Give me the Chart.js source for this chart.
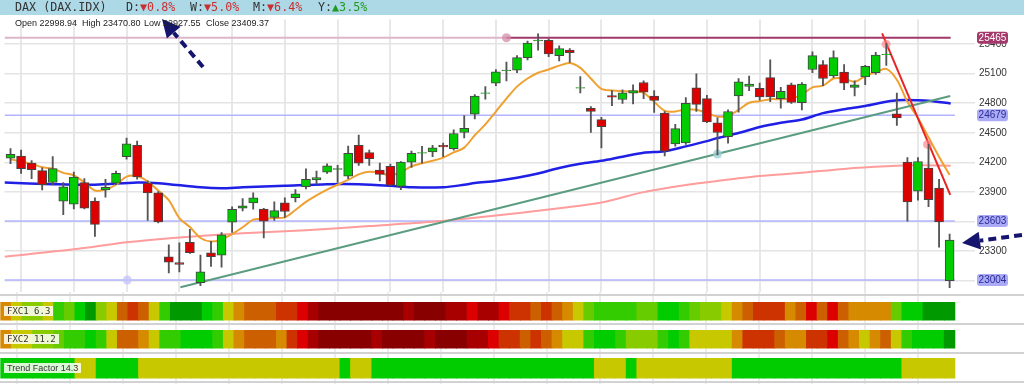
<!DOCTYPE html>
<html>
<head>
<meta charset="utf-8">
<script src="https://cdn.jsdelivr.net/npm/chart.js@4.4.1/dist/chart.umd.min.js"></script>
<style>
  body { margin: 0; width: 1024px; height: 384px; overflow: hidden; position: relative; background: #fff; font-family: "Liberation Sans", Arial, sans-serif; }
  #strips { position: absolute; left: 0; top: 292px; }
  #price { position: absolute; left: 0; top: 15px; }
  #hdr { position: absolute; left: 0; top: 0; width: 1024px; height: 15px; background: #add8e6; font: 11.7px "DejaVu Sans Mono", monospace; color: #333; }
  #hdr span { position: absolute; top: 0; line-height: 15px; white-space: pre; }
  .dn { color: #c83030; }
  .up { color: #209a20; }
  .ohlc { position: absolute; top: 18px; font-size: 9px; line-height: 11px; color: #222; white-space: pre; }
  .lbl { position: absolute; left: 4px; height: 10px; line-height: 10px; padding: 0 3px; background: rgba(255, 255, 248, 0.85); color: #333; font: 9px "DejaVu Sans Mono", monospace; white-space: pre; }
</style>
</head>
<body>
<canvas id="strips" width="1024" height="92"></canvas>
<canvas id="price" width="1024" height="281"></canvas>
<div id="hdr">
  <span style="left:15px">DAX (DAX.IDX)</span>
  <span style="left:126px">D:<b class="dn" style="font-weight:normal">▼0.8%</b></span>
  <span style="left:190px">W:<b class="dn" style="font-weight:normal">▼5.0%</b></span>
  <span style="left:253px">M:<b class="dn" style="font-weight:normal">▼6.4%</b></span>
  <span style="left:318px">Y:<b class="up" style="font-weight:normal">▲3.5%</b></span>
</div>
<div class="ohlc" style="left:15px">Open 22998.94</div>
<div class="ohlc" style="left:82px">High 23470.80</div>
<div class="ohlc" style="left:144px">Low 22927.55</div>
<div class="ohlc" style="left:206px">Close 23409.37</div>
<div class="lbl" style="top:306px">FXC1 6.3</div>
<div class="lbl" style="top:334px">FXC2 11.2</div>
<div class="lbl" style="top:363px;font-family:'Liberation Sans',Arial,sans-serif">Trend Factor 14.3</div>

<script>
// daily candles, oldest first
var opens = [24241, 24264, 24192, 24116, 23995, 23805, 23775, 23995, 23805, 23920,
  23988, 24257, 24372, 23988, 23890, 23241, 23182, 23388, 22978, 23280,
  23257, 23592, 23733, 23788, 23726, 23641, 23788, 23841, 23952, 24021,
  24100, 24129, 24060, 24372, 24300, 24120, 24159, 23956, 24202, 24293,
  24306, 24372, 24339, 24503, 24690, 24900, 25005, 25130, 25136, 25264,
  25434, 25438, 25284, 25339, 24952, 24749, 24634, 24877, 24838, 24903,
  25011, 24874, 24700, 24388, 24398, 24956, 24847, 24602, 24461, 24874,
  24972, 24952, 25061, 24847, 24988, 24805, 25143, 25192, 25077, 25116,
  24962, 25067, 25110, 25293, 24693, 24202, 23906, 24142, 23939, 22998.94];
var highs = [24339, 24323, 24218, 24143, 24257, 23995, 24100, 24034, 23838, 24028,
  24110, 24447, 24415, 24011, 23903, 23362, 23382, 23519, 23257, 23398,
  23487, 23749, 23831, 23890, 23733, 23798, 23838, 23923, 24133, 24110,
  24185, 24169, 24365, 24477, 24323, 24192, 24182, 24208, 24313, 24362,
  24372, 24395, 24529, 24674, 24887, 24969, 25143, 25218, 25284, 25431,
  25505, 25454, 25382, 25356, 25070, 24765, 24657, 24929, 24936, 24988,
  25028, 24929, 24716, 24585, 24857, 25100, 24880, 24651, 24733, 25051,
  25077, 25005, 25241, 24962, 25005, 25011, 25323, 25234, 25333, 25192,
  25028, 25185, 25316, 25405, 24903, 24247, 24247, 24382, 24028, 23470.80];
var lows = [24185, 24087, 24034, 23920, 23972, 23667, 23726, 23726, 23447, 23847,
  23972, 24231, 24028, 23611, 23585, 23077, 23087, 23274, 22946, 23142,
  23136, 23487, 23706, 23723, 23431, 23611, 23641, 23798, 23929, 23978,
  24087, 23995, 24034, 24169, 24169, 24011, 23962, 23923, 24149, 24192,
  24257, 24257, 24323, 24447, 24641, 24841, 24979, 25028, 25110, 25241,
  25339, 25274, 25231, 25215, 24906, 24503, 24346, 24775, 24798, 24792,
  24847, 24706, 24264, 24365, 24382, 24716, 24602, 24274, 24395, 24710,
  24929, 24831, 24815, 24749, 24798, 24733, 25110, 24979, 25061, 24939,
  24874, 24988, 25093, 25185, 24575, 23601, 23815, 23749, 23339, 22927.55];
var closes = [24280, 24136, 24126, 23972, 24136, 23952, 24051, 23733, 23569, 23946,
  24087, 24388, 24051, 23890, 23595, 23185, 23162, 23283, 23087, 23241,
  23464, 23723, 23759, 23838, 23601, 23710, 23700, 23880, 24028, 24044,
  24165, 24136, 24290, 24192, 24238, 24077, 23969, 24202, 24290, 24300,
  24346, 24356, 24493, 24546, 24874, 24906, 25120, 25136, 25264, 25411,
  25441, 25300, 25356, 25313, 24959, 24716, 24562, 24861, 24906, 24929,
  24913, 24828, 24313, 24543, 24798, 24788, 24611, 24503, 24716, 25018,
  24995, 24864, 24864, 24920, 24808, 24995, 25284, 25051, 25264, 25005,
  24988, 25175, 25290, 25300, 24651, 23798, 24208, 23821, 23595, 23409.37];

// short moving average (orange), one value per candle
var fastMa = [24231, 24208, 24185, 24149, 24136, 24093, 24067, 23995, 23913, 23923,
  23972, 24054, 24060, 24005, 23913, 23815, 23634, 23542, 23431, 23395,
  23415, 23470, 23540, 23618, 23624, 23634, 23641, 23716, 23798, 23864,
  23923, 23972, 24021, 24077, 24103, 24093, 24067, 24100, 24159, 24192,
  24215, 24247, 24300, 24349, 24475, 24585, 24716, 24847, 24969, 25051,
  25110, 25143, 25182, 25208, 25159, 25051, 24946, 24929, 24923, 24920,
  24906, 24815, 24723, 24716, 24739, 24733, 24700, 24664, 24674, 24733,
  24805, 24821, 24841, 24841, 24847, 24887, 24962, 24979, 25051, 25051,
  25018, 25077, 25116, 25149, 25038, 24815, 24651, 24454, 24257, 24070];

// blue and pink averages, read at sample points
var midMaAt = [-0.57, 4, 8, 12, 14, 18, 20, 22, 26, 30, 33, 36, 38, 41, 43, 44, 46, 48, 50, 52,
  54, 56, 58, 60, 62, 64, 66, 67, 69, 71, 73, 75, 77, 79, 81, 83, 84, 86, 87, 89.1];
var midMa = [23995, 23978, 23972, 23995, 23988, 23946, 23936, 23946, 23962, 23978, 23978, 23962,
  23946, 23946, 23972, 23990, 24011, 24044, 24087, 24143, 24185, 24215, 24257, 24297, 24313,
  24362, 24415, 24447, 24497, 24559, 24602, 24634, 24700, 24739, 24772, 24815, 24831, 24831,
  24825, 24798];
var slowMaAt = [-0.57, 6, 11, 16, 22, 28, 34, 40, 44, 48, 52, 56, 60, 64, 67, 71, 75, 79, 83, 86, 89.1];
var slowMa = [23241, 23316, 23388, 23437, 23480, 23510, 23552, 23595, 23638, 23683, 23733, 23791,
  23897, 23969, 24011, 24060, 24093, 24133, 24159, 24169, 24166];

// drawn levels and trend lines
var tagLevels = [25465, 24679, 23603, 23004];
var upTrendAt = [16.1, 89.06];
var upTrend = [22931, 24874];
var downTrendAt = [82.6, 89.06];
var downTrend = [25510, 23870];
var highLevelFrom = 47;

// y axis tick labels
var yTicks = [23000, 23300, 23600, 23900, 24200, 24500, 24800, 25100, 25400];

// heat strip levels, 0 = strong green ... 11 = dark red
var fxc1 = [6, 5, 4, 4, 5, 2, 3, 1, 0, 4, 5, 7, 8, 7, 5, 2, 0, 0, 0, 1,
  2, 5, 6, 7, 7, 7, 8, 8, 9, 10, 11, 11, 11, 11, 11, 11, 11, 11, 10, 11,
  11, 11, 10, 10, 9, 10, 10, 9, 8, 8, 7, 8, 7, 6, 5, 3, 2, 2, 2, 2,
  3, 3, 1, 1, 2, 3, 4, 4, 5, 6, 7, 8, 8, 8, 6, 7, 9, 7, 9, 7,
  6, 6, 6, 6, 3, 1, 1, 0, 0, 0];
var fxc2 = [6, 5, 5, 4, 4, 3, 2, 2, 1, 2, 5, 7, 7, 6, 5, 2, 2, 1, 1, 1,
  2, 5, 6, 7, 7, 7, 6, 8, 9, 10, 11, 11, 11, 11, 11, 10, 11, 11, 11, 11,
  10, 11, 11, 11, 10, 10, 9, 8, 8, 7, 8, 7, 6, 5, 5, 2, 1, 1, 2, 4,
  4, 4, 2, 1, 2, 5, 5, 5, 5, 6, 8, 8, 8, 7, 6, 6, 8, 8, 9, 7,
  6, 5, 6, 7, 5, 2, 1, 1, 1, 0];
var trendFactor = [1, 1, 1, 1, 1, 1, 1, 5, 5, 1, 1, 1, 1, 5, 5, 5, 5, 5, 5, 5,
  5, 5, 5, 5, 5, 5, 5, 5, 5, 5, 5, 5, 1, 5, 5, 1, 1, 1, 1, 1,
  1, 1, 1, 1, 1, 1, 1, 1, 1, 1, 1, 1, 1, 1, 1, 1, 5, 5, 5, 1,
  5, 5, 5, 5, 5, 5, 5, 5, 5, 1, 1, 1, 1, 1, 1, 1, 1, 1, 1, 1,
  1, 1, 1, 1, 1, 5, 5, 5, 5, 5];

var heatColors = ['#009900', '#00cc00', '#33cc00', '#66cc00', '#88cc00', '#c8c800',
  '#d68a00', '#cc6000', '#cc3300', '#dd0000', '#a80000', '#880000'];

Chart.defaults.font.family = '"Liberation Sans", Arial, sans-serif';

var xMin = -0.57, xMax = 89.7;
var gridCols = [];
for (var c = 1; c < 90; c += 5) gridCols.push(c);

function pts(xs, ys) {
  return ys.map(function (v, k) { return { x: xs[k], y: v }; });
}
var idx = opens.map(function (_, i) { return i; });

function lineSet(data, color, width, order, tension) {
  return { type: 'line', data: data, borderColor: color, borderWidth: width, pointRadius: 0,
    tension: tension || 0, order: order };
}
function dotSet(data, color) {
  return { type: 'line', data: data, showLine: false, pointRadius: 4.5, pointBorderWidth: 0,
    pointBackgroundColor: color, order: 3 };
}

function drawArrow(ctx, x1, y1, x2, y2) {
  var a = Math.atan2(y2 - y1, x2 - x1), head = 18, hw = 9;
  var bx = x2 - head * Math.cos(a), by = y2 - head * Math.sin(a);
  ctx.save();
  ctx.strokeStyle = '#15156e';
  ctx.fillStyle = '#15156e';
  ctx.lineWidth = 4;
  ctx.setLineDash([8, 5]);
  ctx.beginPath(); ctx.moveTo(x1, y1); ctx.lineTo(bx, by); ctx.stroke();
  ctx.setLineDash([]);
  ctx.beginPath();
  ctx.moveTo(x2, y2);
  ctx.lineTo(bx + hw * Math.sin(a), by - hw * Math.cos(a));
  ctx.lineTo(bx - hw * Math.sin(a), by + hw * Math.cos(a));
  ctx.closePath(); ctx.fill();
  ctx.restore();
}

var tagsPlugin = {
  id: 'tags',
  afterDraw: function (chart) {
    var ctx = chart.ctx, y = chart.scales.y;
    ctx.save();
    ctx.font = '10px "Liberation Sans", Arial, sans-serif';
    ctx.textAlign = 'center';
    ctx.textBaseline = 'middle';
    tagLevels.forEach(function (v, k) {
      var py = y.getPixelForValue(v);
      ctx.fillStyle = k === 0 ? '#a3386a' : '#aaaaf6';
      ctx.beginPath();
      ctx.roundRect(977, py - 6, 31, 12, 3);
      ctx.fill();
      ctx.fillStyle = k === 0 ? '#ffffff' : '#2b2b96';
      ctx.fillText(String(v), 992.5, py + 0.5);
    });
    ctx.restore();
    drawArrow(ctx, 203, 52, 162, 4);
    drawArrow(ctx, 1022, 220, 962, 228);
  }
};

new Chart('price', {
  type: 'bar',
  data: {
    datasets: [
      { type: 'bar', data: idx.map(function (i) { return { x: i, y: [opens[i], closes[i]] }; }),
        backgroundColor: idx.map(function (i) { return closes[i] >= opens[i] ? '#00cc00' : '#dd0000'; }),
        borderColor: '#454545', borderWidth: 1, borderSkipped: false, barThickness: 9, grouped: false, order: 0 },
      { type: 'bar', data: idx.map(function (i) { return { x: i, y: [lows[i], highs[i]] }; }),
        backgroundColor: '#555555', barThickness: 1.2, grouped: false, order: 1 },
      dotSet([{ x: highLevelFrom, y: tagLevels[0] }], 'rgba(214,140,170,0.75)'),
      dotSet([{ x: 82.98, y: 25400 }, { x: 86.9, y: 24382 }], 'rgba(255,120,120,0.6)'),
      dotSet([{ x: 67, y: 24285 }], 'rgba(150,205,215,0.75)'),
      dotSet([{ x: 11.07, y: tagLevels[3] }], 'rgba(195,195,255,0.75)'),
      lineSet(pts(downTrendAt, downTrend), '#e82424', 2, 4),
      lineSet(pts(upTrendAt, upTrend), '#5c9c80', 2, 5),
      lineSet(idx.map(function (i) { return { x: i, y: fastMa[i] }; }), '#f0a030', 2, 6, 0.3),
      lineSet(pts(midMaAt, midMa), '#1f1fe6', 2.5, 7, 0.3),
      lineSet(pts(slowMaAt, slowMa), '#ff9c9c', 2, 8, 0.3),
      lineSet([{ x: highLevelFrom, y: tagLevels[0] }, { x: 89.1, y: tagLevels[0] }], '#a03868', 2, 9),
      lineSet([{ x: xMin, y: tagLevels[0] }, { x: highLevelFrom, y: tagLevels[0] }], '#dcb6c9', 2, 9),
      lineSet([{ x: xMin, y: tagLevels[1] }, { x: 89.5, y: tagLevels[1] }], '#b4b4ff', 1.5, 10),
      lineSet([{ x: xMin, y: tagLevels[2] }, { x: 89.5, y: tagLevels[2] }], '#b4b4ff', 1.5, 10),
      lineSet([{ x: xMin, y: tagLevels[3] }, { x: 89.5, y: tagLevels[3] }], '#b4b4ff', 1.5, 10)
    ]
  },
  options: {
    responsive: false,
    animation: false,
    events: [],
    layout: { padding: 0 },
    plugins: { legend: { display: false }, tooltip: { enabled: false } },
    scales: {
      x: {
        type: 'linear', min: xMin, max: xMax, offset: false,
        ticks: { display: false },
        grid: { color: '#e8e8e8', lineWidth: 2, drawTicks: false, offset: false },
        border: { display: false },
        afterBuildTicks: function (s) { s.ticks = gridCols.map(function (v) { return { value: v }; }); },
        afterFit: function (s) { s.height = 0; }
      },
      y: {
        type: 'linear', position: 'right', min: 22887.7, max: 25650.7,
        ticks: { color: '#333', font: { size: 10 }, padding: 4, callback: function (v) { return String(v); } },
        grid: { color: '#e4e4e4', lineWidth: 1.5, tickLength: 18 },
        border: { display: false },
        afterBuildTicks: function (s) { s.ticks = yTicks.map(function (v) { return { value: v }; }); },
        afterFit: function (s) { s.width = 67; s.paddingTop = 0; s.paddingBottom = 0; }
      }
    }
  },
  plugins: [tagsPlugin]
});

function stripSet(levels, lo, hi) {
  return { data: idx.map(function (i) { return { x: i, y: [lo, hi] }; }),
    backgroundColor: levels.map(function (l) { return heatColors[l]; }),
    borderWidth: 0, barPercentage: 1.08, categoryPercentage: 1, grouped: false };
}

new Chart('strips', {
  type: 'bar',
  data: {
    datasets: [
      stripSet(fxc1, 10, 28.5),
      stripSet(fxc2, 38, 56.5),
      stripSet(trendFactor, 66, 86.5)
    ]
  },
  options: {
    responsive: false,
    animation: false,
    events: [],
    layout: { padding: 0 },
    plugins: { legend: { display: false }, tooltip: { enabled: false } },
    scales: {
      x: {
        type: 'linear', min: xMin, max: xMax, offset: false,
        ticks: { display: false },
        grid: { color: '#ececec', lineWidth: 2, drawTicks: false, offset: false },
        border: { display: false },
        afterBuildTicks: function (s) { s.ticks = gridCols.map(function (v) { return { value: v }; }); },
        afterFit: function (s) { s.height = 0; }
      },
      y: {
        type: 'linear', position: 'right', reverse: true, min: 0, max: 92,
        ticks: { display: false },
        grid: { color: '#d2d2d2', lineWidth: 2, tickLength: 67 },
        border: { display: false },
        afterBuildTicks: function (s) { s.ticks = [3, 32, 61, 90].map(function (v) { return { value: v }; }); },
        afterFit: function (s) { s.width = 67; s.paddingTop = 0; s.paddingBottom = 0; }
      }
    }
  }
});
</script>
</body>
</html>
